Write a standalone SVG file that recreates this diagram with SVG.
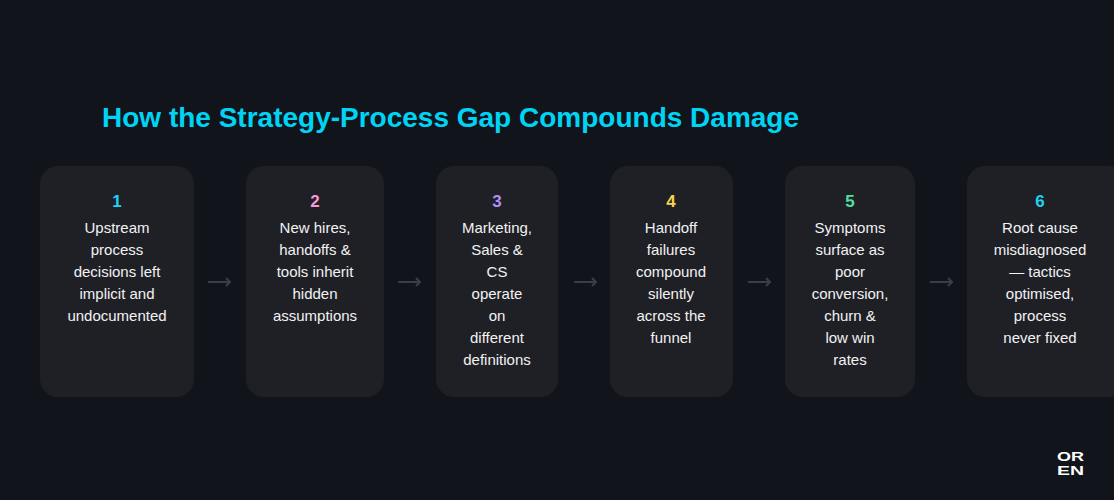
<svg xmlns="http://www.w3.org/2000/svg" width="1114" height="500" viewBox="0 0 1114 500">
<style>
.card{fill:#1f2026}
.num{font:bold 17px "Liberation Sans",Arial,sans-serif;text-anchor:middle}
.t{font:15px "Liberation Sans",Arial,sans-serif;fill:#f2f2f2;text-anchor:middle}
.arr{stroke:#3b3e48;stroke-width:2;fill:none}
</style>
<rect width="1114" height="500" fill="#12141b"/>
<text x="102" y="127" font-family="Liberation Sans,Arial,sans-serif" font-weight="bold" font-size="28" fill="#00d4f5">How the Strategy-Process Gap Compounds Damage</text>
<g id="n1"><rect class="card" x="40" y="166" width="154" height="231" rx="18"/><text class="num" x="117" y="207" fill="#1ed3f0">1</text>
<text class="t"><tspan x="117" y="233">Upstream</tspan><tspan x="117" y="255">process</tspan><tspan x="117" y="277">decisions left</tspan><tspan x="117" y="299">implicit and</tspan><tspan x="117" y="321">undocumented</tspan></text></g>
<g id="n2"><rect class="card" x="246" y="166" width="138" height="231" rx="18"/><text class="num" x="315" y="207" fill="#f79ad3">2</text>
<text class="t"><tspan x="315" y="233">New hires,</tspan><tspan x="315" y="255">handoffs &amp;</tspan><tspan x="315" y="277">tools inherit</tspan><tspan x="315" y="299">hidden</tspan><tspan x="315" y="321">assumptions</tspan></text></g>
<g id="n3"><rect class="card" x="436" y="166" width="122" height="231" rx="18"/><text class="num" x="497" y="207" fill="#b38cf5">3</text>
<text class="t"><tspan x="497" y="233">Marketing,</tspan><tspan x="497" y="255">Sales &amp;</tspan><tspan x="497" y="277">CS</tspan><tspan x="497" y="299">operate</tspan><tspan x="497" y="321">on</tspan><tspan x="497" y="343">different</tspan><tspan x="497" y="365">definitions</tspan></text></g>
<g id="n4"><rect class="card" x="610" y="166" width="123" height="231" rx="18"/><text class="num" x="671" y="207" fill="#f8d24a">4</text>
<text class="t"><tspan x="671" y="233">Handoff</tspan><tspan x="671" y="255">failures</tspan><tspan x="671" y="277">compound</tspan><tspan x="671" y="299">silently</tspan><tspan x="671" y="321">across the</tspan><tspan x="671" y="343">funnel</tspan></text></g>
<g id="n5"><rect class="card" x="785" y="166" width="130" height="231" rx="18"/><text class="num" x="850" y="207" fill="#4fe0a0">5</text>
<text class="t"><tspan x="850" y="233">Symptoms</tspan><tspan x="850" y="255">surface as</tspan><tspan x="850" y="277">poor</tspan><tspan x="850" y="299">conversion,</tspan><tspan x="850" y="321">churn &amp;</tspan><tspan x="850" y="343">low win</tspan><tspan x="850" y="365">rates</tspan></text></g>
<g id="n6"><rect class="card" x="967" y="166" width="160" height="231" rx="18"/><text class="num" x="1040" y="207" fill="#1ed3f0">6</text>
<text class="t"><tspan x="1040" y="233">Root cause</tspan><tspan x="1040" y="255">misdiagnosed</tspan><tspan x="1040" y="277">— tactics</tspan><tspan x="1040" y="299">optimised,</tspan><tspan x="1040" y="321">process</tspan><tspan x="1040" y="343">never fixed</tspan></text></g>
<g id="connectors">
<path class="arr" d="M208 282h22M226 278l4 4-4 4"/>
<path class="arr" d="M398 282h22M416 278l4 4-4 4"/>
<path class="arr" d="M574 282h22M592 278l4 4-4 4"/>
<path class="arr" d="M748 282h22M766 278l4 4-4 4"/>
<path class="arr" d="M930 282h22M948 278l4 4-4 4"/>
</g>
<g id="logo" font-family="Liberation Sans,Arial,sans-serif" font-weight="900" font-size="13" fill="#fff"><text x="1057" y="461" textLength="27" lengthAdjust="spacingAndGlyphs">OR</text><text x="1057" y="475" textLength="27" lengthAdjust="spacingAndGlyphs">EN</text></g>
</svg>
